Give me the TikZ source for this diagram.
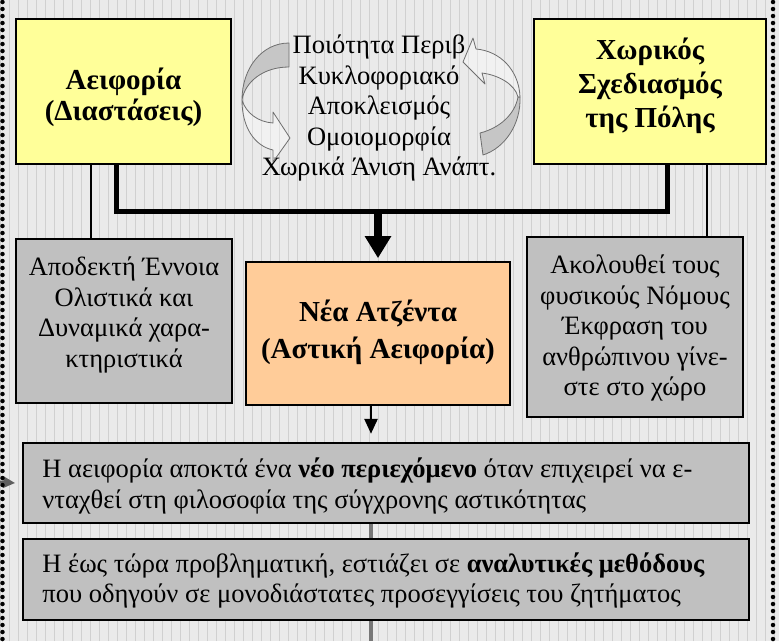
\documentclass[tikz,border=0pt]{standalone}
\usepackage{fontspec}
\setmainfont{Liberation Serif}
\usetikzlibrary{arrows.meta}
\definecolor{bg}{HTML}{EAEAEA}
\definecolor{gridc}{HTML}{D0D0D0}
\definecolor{yel}{HTML}{FFFF99}
\definecolor{gbox}{HTML}{C0C0C0}
\definecolor{orng}{HTML}{FFCC99}
\definecolor{arrfill}{HTML}{C6C6C6}
\definecolor{arredge}{HTML}{6E6E6E}
\definecolor{linkgray}{HTML}{777777}
\begin{document}
\begin{tikzpicture}[x=1pt,y=-1pt,
  box/.style={draw=black, line width=1.6pt, inner sep=0pt},
  lbl/.style={inner sep=0pt, align=center},
  normtxt/.style={font={\fontsize{26.5}{30.5}\selectfont}},
  boldtxt/.style={font={\fontsize{29}{31}\selectfont\bfseries}},
  bus/.style={line width=5pt, line join=miter},
  thinlink/.style={line width=1.4pt},
  bigarrow/.style={line width=7.5pt, -{Triangle[length=22pt,width=25pt]}},
  smallarrow/.style={line width=2.6pt, -{Triangle[length=15pt,width=13pt]}},
  graylink/.style={line width=4pt, linkgray},
  curvearr/.style={draw=arredge, line width=0.8pt, line join=round},
  dotborder/.style={line width=4.5pt, line cap=round, dash pattern=on 0pt off 7pt}
]
\useasboundingbox (0,0) rectangle (779,641);
\fill[bg] (0,0) rectangle (779,641);
\draw[gridc, line width=0.6pt, step=9] (0,0) grid (779,641);

% boxes
\node[box, fill=yel, minimum width=215, minimum height=145] (aei) at (123.5,91.5) {};
\node[lbl, boldtxt] (aeiT) at ([yshift=-6pt]aei.center) {Αειφορία\\(Διαστάσεις)};
\node[box, fill=yel, minimum width=232, minimum height=145] (xor) at (650,91.5) {};
\node[lbl, font={\fontsize{29}{34}\selectfont\bfseries}] (xorT) at ([yshift=6pt]xor.center) {Χωρικός\\Σχεδιασμός\\της Πόλης};
\node[box, fill=gbox, minimum width=216, minimum height=164] (apo) at (124,321) {};
\node[lbl, normtxt] (apoT) at ([yshift=6pt]apo.center) {Αποδεκτή Έννοια\\Ολιστικά και\\Δυναμικά χαρα-\\κτηριστικά};
\node[box, fill=orng, minimum width=264, minimum height=143] (nea) at (378,333.5) {};
\node[lbl, font={\fontsize{29}{37}\selectfont\bfseries}] (neaT) at ([yshift=1pt]nea.center) {Νέα Ατζέντα\\(Αστική Αειφορία)};
\node[box, fill=gbox, minimum width=216, minimum height=180] (ako) at (635,327) {};
\node[lbl, normtxt] (akoT) at ([yshift=-1pt]ako.center) {Ακολουθεί τους\\φυσικούς Νόμους\\Έκφραση του\\ανθρώπινου γίνε-\\στε στο χώρο};
\node[box, fill=gbox, minimum width=726, minimum height=80] (b1) at (386,483) {};
\node[lbl, normtxt, align=left, anchor=west] (b1T) at ([xshift=20pt,yshift=-3pt]b1.west)
  {Η αειφορία αποκτά ένα \textbf{νέο περιεχόμενο} όταν επιχειρεί να ε-\\νταχθεί στη φιλοσοφία της σύγχρονης αστικότητας};
\node[box, fill=gbox, minimum width=726, minimum height=81] (b2) at (386,579.5) {};
\node[lbl, normtxt, align=left, anchor=west] (b2T) at ([xshift=20pt,yshift=-1pt]b2.west)
  {Η έως τώρα προβληματική, εστιάζει σε \textbf{αναλυτικές μεθόδους}\\που οδηγούν σε μονοδιάστατες προσεγγίσεις του ζητήματος};

% centre text
\node[lbl, normtxt] (mid) at (379,108) {Ποιότητα Περιβ\\Κυκλοφοριακό\\Αποκλεισμός\\Ομοιομορφία\\Χωρικά Άνιση Ανάπτ.};

% curved arrows (left)
\path[curvearr, fill=arrfill] (289,43) .. controls (262,43) and (242,68) .. (242,100)
   .. controls (245,82) and (263,67) .. (289,67) -- cycle;
\path[curvearr, fill=white, fill opacity=0.35] (242,100) .. controls (246,113) and (258,122) .. (273,123)
   -- (273,112) -- (290,138) -- (273,162) -- (273,150)
   .. controls (255,146) and (242,128) .. (242,100) -- cycle;
% curved arrows (right)
\path[curvearr, fill=arrfill] (520,97) .. controls (521,124) and (505,148) .. (483,155)
   -- (480,133) .. controls (500,128) and (515,114) .. (518,97) -- cycle;
\path[curvearr, fill=white, fill opacity=0.35] (518,97) .. controls (515,84) and (498,75) .. (482,73)
   -- (485,84) -- (463,62) -- (473,38) -- (476,49)
   .. controls (500,51) and (519,70) .. (520,97) -- cycle;

% connectors
\coordinate (j) at (378,211);
\draw[bus] ([xshift=-7.5pt]aei.south) |- (j) -| ([xshift=17pt]xor.south);
\draw[bigarrow] ([yshift=2pt]j) -- ([yshift=3pt]nea.north);
\draw[thinlink] ([xshift=-32.5pt]aei.south) -- ([xshift=-33pt]apo.north);
\draw[thinlink] ([xshift=57pt]xor.south) -- ([xshift=72pt]ako.north);
\draw[smallarrow] ([xshift=-7pt]nea.south) -- ([xshift=-7pt,yshift=-28pt]nea.south);
\draw[graylink] ([xshift=-15pt]b1.south) -- ([xshift=-15pt]b2.north);
\coordinate (bot) at (371,641);
\draw[graylink] ([xshift=-15pt]b2.south) -- (bot);
\coordinate (lin) at (0,482);
\draw[line width=3pt, linkgray!80!black, -{Triangle[length=12pt,width=11pt]}] (lin) -- ([xshift=-7pt]b1.west);

% dotted borders
\draw[dotborder] (2.5,2) -- (2.5,641);
\draw[dotborder] (773,2) -- (773,641);
\end{tikzpicture}
\end{document}
